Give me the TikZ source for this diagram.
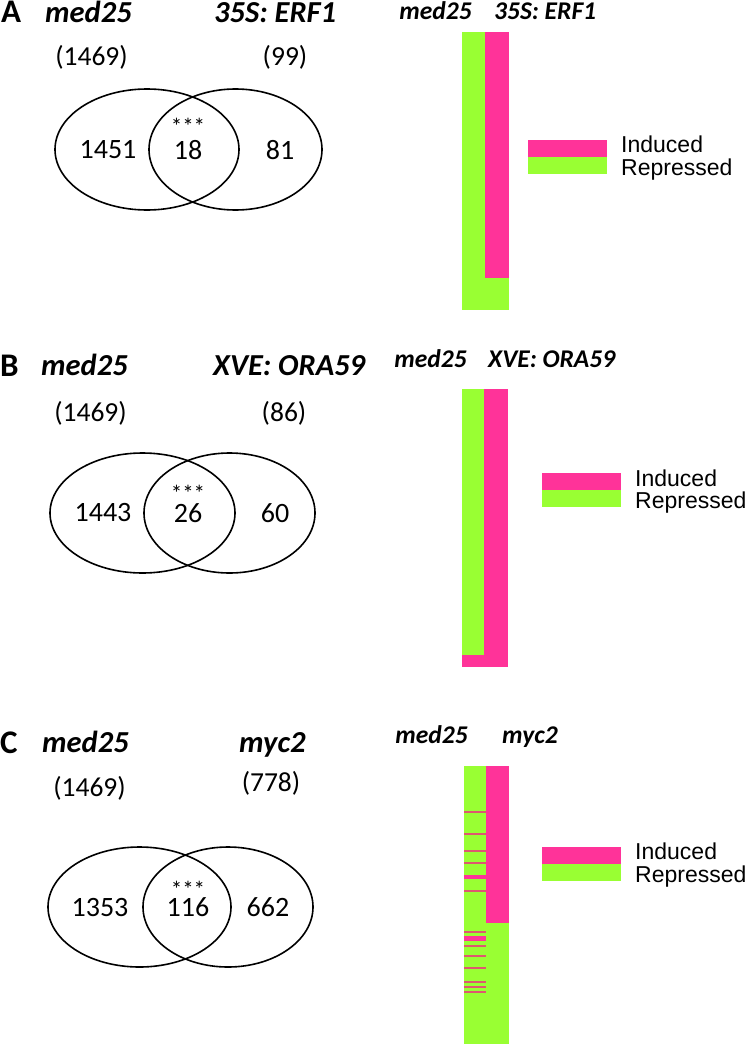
\documentclass[tikz,border=0pt]{standalone}
\usepackage{fontspec}
\setmainfont{Carlito}
\newfontfamily\arialf{Liberation Sans}
\definecolor{repgreen}{RGB}{153,255,51}
\definecolor{indpink}{RGB}{255,51,153}
\definecolor{stripecol}{RGB}{222,88,112}
\tikzset{
  venn/.style={draw=black, line width=1.6pt},
  panel/.style={font=\fontsize{33}{36}\selectfont\bfseries, inner sep=0, anchor=base west},
  vtitle/.style={font=\fontsize{30.5}{34}\selectfont\bfseries\itshape, inner sep=0, anchor=base west},
  cnt/.style={font=\fontsize{27.5}{32}\selectfont, inner sep=0},
  num/.style={font=\fontsize{28}{32}\selectfont, inner sep=0},
  star/.style={font=\fontsize{23}{24}\selectfont, inner sep=0, anchor=base},
  hlabl/.style={font=\fontsize{25.5}{30}\selectfont\bfseries\itshape, inner sep=0, anchor=base east},
  hlabr/.style={font=\fontsize{25.5}{30}\selectfont\bfseries\itshape, inner sep=0, anchor=base west},
  leg/.style={font=\arialf\fontsize{23}{26}\selectfont, inner sep=0, anchor=base west},
}
\begin{document}
\begin{tikzpicture}[x=1pt,y=-1pt]
\useasboundingbox (0,0) rectangle (745,1044);

% ---------------- Panel A ----------------
\node[panel] (pA) at (1,23) {A};
\node[vtitle] (tA1) at (45,23) {med25};
\node[vtitle] (tA2) at (214,23) {35S: ERF1};
\node[cnt] (cA1) at (91.5,57) {(1469)};
\node[cnt] (cA2) at (285,57) {(99)};
\draw[venn] (147,149.5) ellipse [x radius=92, y radius=60.5];
\draw[venn] (235.5,149.5) ellipse [x radius=86.5, y radius=60.5];
\node[num] (nA1) at (108,150) {1451};
\node[num] (nA2) at (188,150) {18};
\node[num] (nA3) at (280,150) {81};
\node[star] (sA) at (188,134) {***};

\node[hlabl] (hA1) at (472,19.5) {med25};
\node[hlabr] (hA2) at (494,19.5) {35S: ERF1};
\fill[repgreen] (462,32) rectangle (485,310);
\fill[indpink] (485,32) rectangle (509,278);
\fill[repgreen] (485,278) rectangle (509,310);
\fill[indpink] (528,140) rectangle (607,157);
\fill[repgreen] (528,157) rectangle (607,174);
\node[leg] (lA1) at (621,152) {Induced};
\node[leg] (lA2) at (621,175.5) {Repressed};

% ---------------- Panel B ----------------
\node[panel] (pB) at (0,376) {B};
\node[vtitle] (tB1) at (41,375) {med25};
\node[vtitle] (tB2) at (213,375) {XVE: ORA59};
\node[cnt] (cB1) at (90.5,413) {(1469)};
\node[cnt] (cB2) at (284,413) {(86)};
\draw[venn] (142.5,513) ellipse [x radius=92.5, y radius=60];
\draw[venn] (229.5,513) ellipse [x radius=85.5, y radius=60];
\node[num] (nB1) at (103,513) {1443};
\node[num] (nB2) at (188,513) {26};
\node[num] (nB3) at (275,513) {60};
\node[star] (sB) at (188,501) {***};

\node[hlabl] (hB1) at (467,367) {med25};
\node[hlabr] (hB2) at (488,367) {XVE: ORA59};
\fill[indpink] (484,389) rectangle (508,667);
\fill[repgreen] (462,389) rectangle (484,655);
\fill[indpink] (462,655) rectangle (484,667);
\fill[indpink] (542,473) rectangle (621,490);
\fill[repgreen] (542,490) rectangle (621,507);
\node[leg] (lB1) at (635,486) {Induced};
\node[leg] (lB2) at (635,508) {Repressed};

% ---------------- Panel C ----------------
\node[panel] (pC) at (0,753) {C};
\node[vtitle] (tC1) at (42,752) {med25};
\node[vtitle] (tC2) at (239,752) {myc2};
\node[cnt] (cC1) at (89.5,788) {(1469)};
\node[cnt] (cC2) at (271,783) {(778)};
\draw[venn] (139.5,907) ellipse [x radius=91.5, y radius=60];
\draw[venn] (228,907) ellipse [x radius=85, y radius=60];
\node[num] (nC1) at (100,907) {1353};
\node[num] (nC2) at (188,907) {116};
\node[num] (nC3) at (268,907) {662};
\node[star] (sC) at (188,897) {***};

\node[hlabl] (hC1) at (468,743) {med25};
\node[hlabr] (hC2) at (502,743) {myc2};
\fill[repgreen] (464,766) rectangle (486,1044);
\fill[indpink] (486,766) rectangle (509,923);
\fill[repgreen] (486,923) rectangle (509,1044);
\foreach \yy in {812.3,833.5,850.5,862.5,891,931.7,946.3,956,967.7,981.7,986.7,992}
  \fill[stripecol] (464,\yy-1) rectangle (486,\yy+1);
\foreach \yy in {877.2,938.5}
  \fill[indpink] (464,\yy-2.2) rectangle (486,\yy+2.2);
\fill[indpink] (542,847) rectangle (621,864);
\fill[repgreen] (542,864) rectangle (621,881);
\node[leg] (lC1) at (635,859) {Induced};
\node[leg] (lC2) at (635,882) {Repressed};
\end{tikzpicture}
\end{document}
